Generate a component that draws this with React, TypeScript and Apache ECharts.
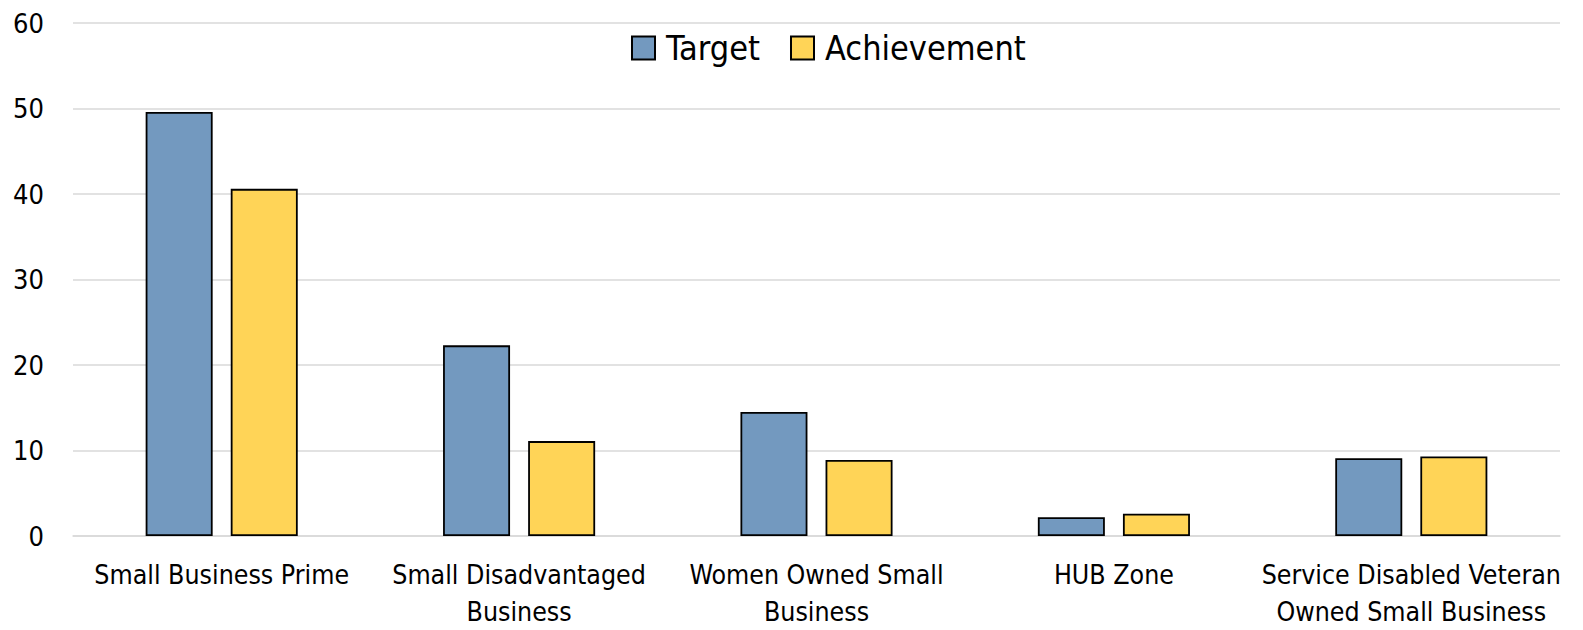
import React, { useEffect, useRef } from "react";
import * as echarts from "echarts";

const categories = [
  "Small Business Prime",
  "Small Disadvantaged\nBusiness",
  "Women Owned Small\nBusiness",
  "HUB Zone",
  "Service Disabled Veteran\nOwned Small Business",
];
const targetValues = [49.6, 22.3, 14.5, 2.2, 9.1];
const achievementValues = [40.6, 11.1, 8.9, 2.6, 9.3];
const yTicks = { min: 0, max: 60, interval: 10 };

const FONT = "'Liberation Sans Narrow', 'Arial Narrow', 'DejaVu Sans Condensed', sans-serif";

export default function App() {
  const ref = useRef<HTMLDivElement>(null);
  useEffect(() => {
    if (!ref.current) return;
    const chart = echarts.init(ref.current, null, { renderer: "svg" });
    chart.setOption({
      animation: false,
      backgroundColor: "#fff",
      textStyle: { fontFamily: FONT },
      grid: { left: 73, right: 23, top: 23, bottom: 93, containLabel: false },
      legend: {
        left: 626,
        top: 26,
        itemWidth: 23,
        itemHeight: 23,
        itemGap: 30,
        icon: "rect",
        textStyle: { fontSize: 34, color: "#000", fontFamily: FONT, padding: [0, 0, 0, 6] },
        data: ["Target", "Achievement"],
      },
      xAxis: {
        type: "category",
        data: categories,
        axisLine: { show: true, lineStyle: { color: "#D9D9D9", width: 1.5 } },
        axisTick: { show: false },
        axisLabel: {
          interval: 0,
          fontSize: 26.5,
          lineHeight: 37,
          color: "#000",
          margin: 20,
          fontFamily: FONT,
        },
      },
      yAxis: {
        type: "value",
        min: yTicks.min,
        max: yTicks.max,
        interval: yTicks.interval,
        axisLine: { show: false },
        axisTick: { show: false },
        splitLine: { lineStyle: { color: "#D9D9D9", width: 1.5 } },
        axisLabel: { fontSize: 27, color: "#000", margin: 29, fontFamily: FONT },
      },
      series: [
        {
          name: "Target",
          type: "bar",
          data: targetValues,
          barWidth: 67,
          barGap: "27%",
          itemStyle: { color: "#7399BF", borderColor: "#000", borderWidth: 1.8 },
        },
        {
          name: "Achievement",
          type: "bar",
          data: achievementValues,
          barWidth: 67,
          barGap: "27%",
          itemStyle: { color: "#FFD457", borderColor: "#000", borderWidth: 1.8 },
        },
      ],
    });
    return () => chart.dispose();
  }, []);
  return (
    <div
      ref={ref}
      style={{ position: "fixed", left: 0, top: 0, width: 1583, height: 630 }}
    />
  );
}
